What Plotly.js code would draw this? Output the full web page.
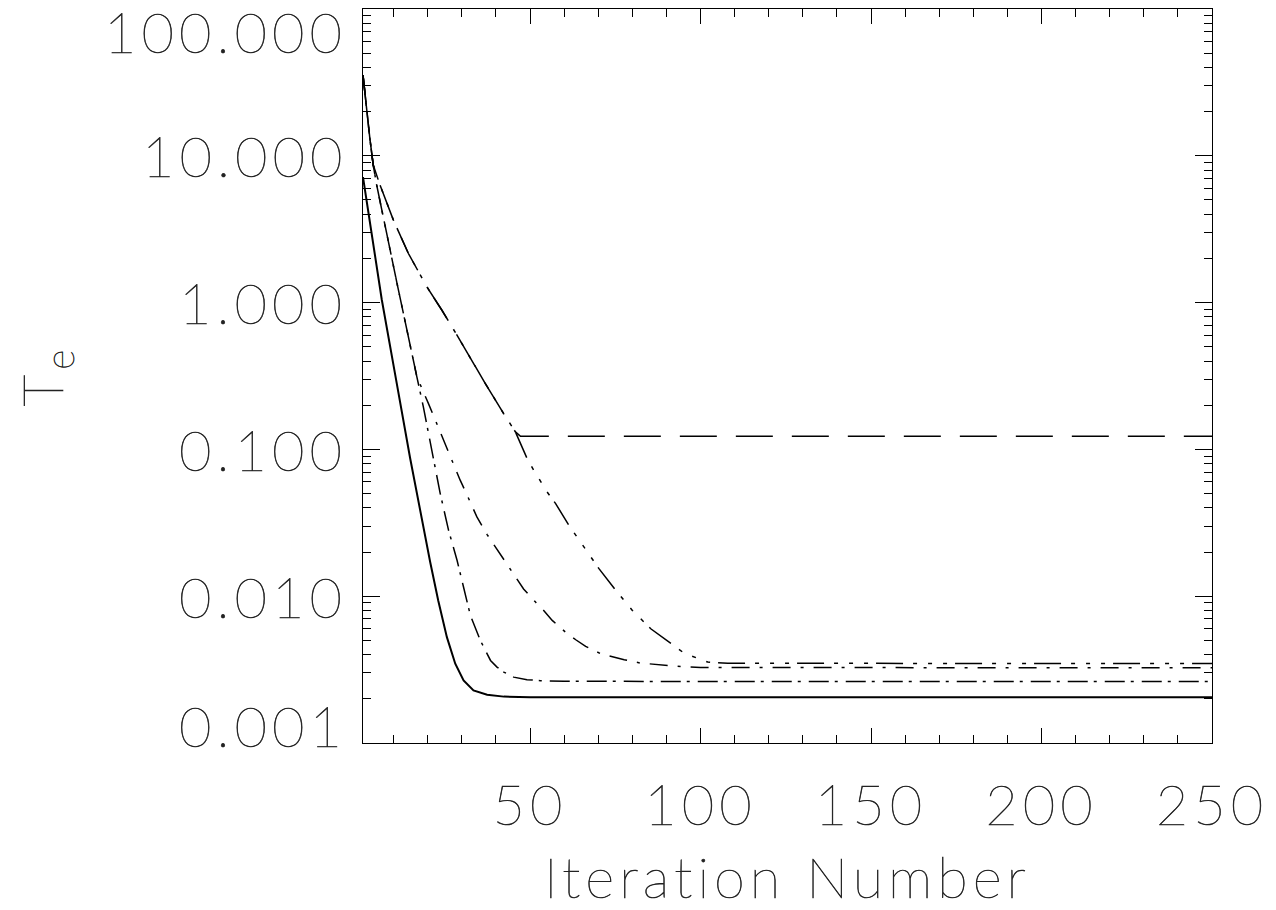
<!DOCTYPE html>
<html>
<head>
<meta charset="utf-8">
<script src="https://cdn.plot.ly/plotly-3.0.1.min.js"></script>
<style>
html,body{margin:0;padding:0;background:#fff;}
#chart{width:1276px;height:910px;}
svg text{letter-spacing:5px;stroke:#222;stroke-width:0.6px;}
</style>
</head>
<body>
<div id="chart"></div>
<script>
// ---- data ----
const iterSolid = [1, 5.5, 6.5, 10.4, 14.8, 20.7, 23.06, 25.6, 28.06, 30.5, 33.4, 37.4, 42.3, 50, 250];
const teSolid   = [7.16, 1.42, 1.05, 0.327, 0.0877, 0.0171, 0.00936, 0.00526, 0.00347, 0.00267, 0.00228, 0.00213, 0.00207, 0.00205, 0.00205];

const iterFast = [1, 2, 3, 4, 5, 10.9, 12.85, 14.8, 16.8, 18.7, 21.2, 23.65, 26.1, 28.6, 30.5, 32.5, 35.4, 38.4, 40.3, 42.3, 45.2, 49.1, 53.1, 60, 250];
const teFast   = [35.5, 21, 13.2, 8.65, 6.34, 1.38, 0.843, 0.49, 0.312, 0.195, 0.0986, 0.050, 0.0281, 0.0175, 0.0115, 0.0074, 0.0050, 0.00365, 0.00329, 0.00304, 0.00281, 0.0027, 0.00266, 0.00263, 0.00262];

const iterMid = [1, 2, 3, 4, 5, 10.9, 12.85, 14.8, 16.8, 20.2, 22.2, 24.6, 26.6, 29.5, 31.5, 34.4, 37.4, 41.3, 44.2, 48.1, 51.6, 54, 56.5, 60.4, 63.4, 66.3, 70.7, 74.1, 77.6, 82.5, 89.8, 94.2, 100, 250];
const teMid   = [35.5, 21, 13.2, 8.65, 6.34, 1.38, 0.843, 0.49, 0.312, 0.205, 0.158, 0.116, 0.0891, 0.0617, 0.0490, 0.0347, 0.0263, 0.0193, 0.0154, 0.0112, 0.00912, 0.0080, 0.00684, 0.00569, 0.00505, 0.00455, 0.00406, 0.00385, 0.00369, 0.0035, 0.00337, 0.00332, 0.00327, 0.00325];

const iterSlow = [1, 2, 3, 4, 6, 9.91, 14.32, 19.74, 24.15, 28.56, 33.94, 36.88, 42.26, 45.71, 49.15, 51.1, 55, 57.5, 61.4, 65.8, 70.2, 75.1, 80, 85.4, 91.3, 95.2, 99.1, 102.1, 108, 250];
const teSlow   = [35.5, 21, 13.2, 8.65, 6.31, 3.65, 2.16, 1.28, 0.887, 0.600, 0.365, 0.281, 0.175, 0.1315, 0.0865, 0.072, 0.0513, 0.0427, 0.0304, 0.0216, 0.0154, 0.0110, 0.0080, 0.0060, 0.00474, 0.00409, 0.00378, 0.00356, 0.00349, 0.00348];

const iterLong = [1, 2, 3, 4, 6, 9.91, 14.32, 19.74, 24.15, 28.56, 33.94, 36.88, 42.26, 45.71, 47.2, 250];
const teLong   = [35.5, 21, 13.2, 8.65, 6.31, 3.65, 2.16, 1.28, 0.887, 0.600, 0.365, 0.281, 0.175, 0.1315, 0.1228, 0.1228];

const xTickVals = [50, 100, 150, 200, 250];
const xTickText = ['50', '100', '150', '200', '250'];
const yTickVals = [100, 10, 1, 0.1, 0.01, 0.001];
const yTickText = ['100.000', '10.000', '1.000', '0.100', '0.010', '0.001'];

const xTitle = 'Iteration Number';
const yTitle = 'T<sub>e</sub>';

// ---- styling ----
const FONT = 'Lato, sans-serif';
const FW = 100;
const TXT = '#222222';
const FS = 56;

function tr(x, y, dash, w) {
  return {x: x, y: y, type: 'scatter', mode: 'lines', showlegend: false, hoverinfo: 'skip',
          line: {color: '#000', width: w, dash: dash, shape: 'linear'}};
}
const traces = [
  tr(iterSolid, teSolid, 'solid', 2),
  tr(iterFast, teFast, '20px,6px,3px,8px', 1.5),
  tr(iterMid, teMid, '18px,10px,3px,10px', 1.5),
  tr(iterSlow, teSlow, '27px,10px,4px,11px,4px,11px,4px,8px', 1.5),
  tr(iterLong, teLong, '37px,19px', 1.5)
];

const annotations = yTickVals.map((v, i) => {
  let ys = 0;
  if (i === 0) ys = -22;
  if (i === yTickVals.length - 1) ys = 18;
  return {xref: 'paper', yref: 'y', x: 0, y: Math.log10(v), xanchor: 'right', yanchor: 'middle',
          xshift: -15, yshift: ys, text: yTickText[i], showarrow: false, borderpad: 0,
          font: {family: FONT, size: FS, color: TXT, weight: FW}};
});
annotations.push({xref: 'paper', yref: 'paper', x: 0, y: 0.5, xanchor: 'left', yanchor: 'middle',
  xshift: -358, text: yTitle, textangle: -90, showarrow: false,
  font: {family: FONT, size: FS, color: TXT, weight: FW}});

const layout = {
  width: 1276, height: 910,
  margin: {l: 363, r: 64, t: 9, b: 167, pad: 0},
  paper_bgcolor: '#fff', plot_bgcolor: '#fff',
  font: {family: FONT, size: FS, color: TXT, weight: FW},
  xaxis: {
    type: 'linear', range: [1, 250], autorange: false,
    tickmode: 'array', tickvals: xTickVals, ticktext: xTickText,
    ticks: 'inside', ticklen: 15, tickwidth: 1, tickcolor: '#000',
    minor: {dtick: 10, tick0: 0, ticks: 'inside', ticklen: 8, tickwidth: 1, tickcolor: '#000', showgrid: false},
    showline: true, linecolor: '#000', linewidth: 1, mirror: 'ticks',
    showgrid: false, zeroline: false,
    tickfont: {family: FONT, size: FS, color: TXT, weight: FW},
    ticklabelstandoff: 14,
    title: {text: xTitle, font: {family: FONT, size: FS, color: TXT, weight: FW}, standoff: 30},
    automargin: false
  },
  yaxis: {
    type: 'log', range: [-3, 2], autorange: false,
    dtick: 1, tick0: 0,
    ticks: 'inside', ticklen: 17, tickwidth: 1, tickcolor: '#000',
    minor: {dtick: 'D1', ticks: 'inside', ticklen: 8, tickwidth: 1, tickcolor: '#000', showgrid: false},
    showline: true, linecolor: '#000', linewidth: 1, mirror: 'ticks',
    showgrid: false, zeroline: false, showticklabels: false,
    automargin: false
  },
  annotations: annotations
};

Plotly.newPlot('chart', traces, layout, {staticPlot: true, displayModeBar: false});
</script>
</body>
</html>
